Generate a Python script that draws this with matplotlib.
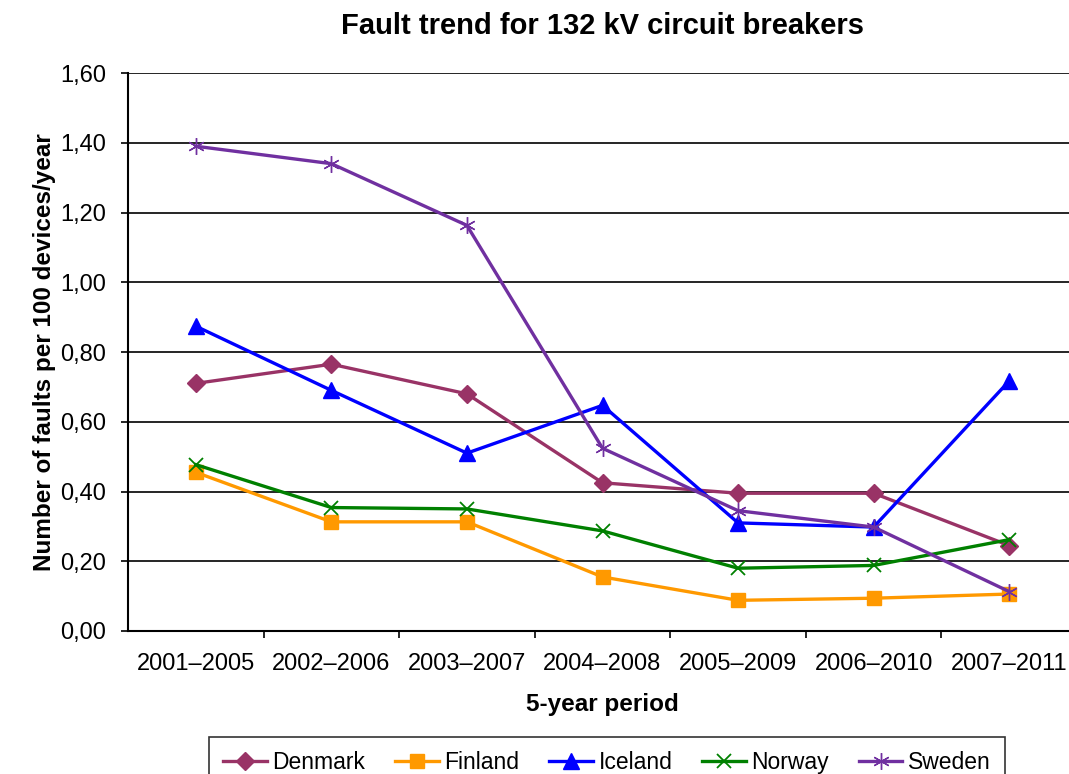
import matplotlib.pyplot as plt
import numpy as np

plt.rcParams["font.family"] = ["Liberation Sans", "DejaVu Sans"]

periods = ["2001–2005", "2002–2006", "2003–2007", "2004–2008",
           "2005–2009", "2006–2010", "2007–2011"]

denmark = [0.71, 0.765, 0.68, 0.425, 0.395, 0.395, 0.245]
finland = [0.455, 0.313, 0.313, 0.155, 0.088, 0.094, 0.106]
iceland = [0.874, 0.69, 0.51, 0.647, 0.31, 0.298, 0.717]
norway = [0.477, 0.354, 0.35, 0.287, 0.18, 0.188, 0.262]
sweden = [1.39, 1.34, 1.163, 0.524, 0.345, 0.298, 0.113]

series = [
    ("Denmark", denmark, "#993366", "D", 9, None),
    ("Finland", finland, "#FF9900", "s", 10, None),
    ("Iceland", iceland, "#0000FF", "^", 11, None),
    ("Norway", norway, "#008000", "x", 10, 1.3),
    ("Sweden", sweden, "#7030A0", (6, 2, 0), 12, 1.0),
]

fig = plt.figure(figsize=(10.69, 7.74), dpi=100)
ax = fig.add_axes([128 / 1069, 1 - 631 / 774, (1077 - 128) / 1069, (631 - 73) / 774])

x = np.arange(len(periods))
for name, vals, col, mk, ms, mew in series:
    kw = dict(color=col, lw=2.4, marker=mk, markersize=ms, label=name)
    if mew is not None:
        kw["markeredgewidth"] = mew
        kw["markeredgecolor"] = col
    ax.plot(x, vals, **kw)

ax.set_xlim(-0.5, len(periods) - 0.5)
ax.set_ylim(0, 1.6)
yt = np.arange(0, 1.61, 0.2)
ax.set_yticks(yt)
ax.set_yticklabels([f"{v:.2f}".replace(".", ",") for v in yt], fontsize=17)
ax.set_xticks(x)
ax.set_xticklabels(periods, fontsize=17)
ax.set_xticks(np.arange(0.5, len(periods) - 0.5), minor=True)
ax.tick_params(axis="x", which="major", length=0, pad=16)
ax.tick_params(axis="x", which="minor", length=5, width=1.2, direction="out")
ax.tick_params(axis="y", length=5, width=1.2, pad=10.5)
ax.grid(axis="y", color="black", lw=1.2)
ax.set_axisbelow(True)
for s in ["top", "right"]:
    ax.spines[s].set_visible(False)
ax.spines["left"].set_linewidth(1.5)
ax.spines["bottom"].set_linewidth(1.5)

ax.set_title("Fault trend for 132 kV circuit breakers", fontsize=21, fontweight="bold", pad=28)
ax.set_xlabel("5-year period", fontsize=17.5, fontweight="bold", labelpad=13)
ax.set_ylabel("Number of faults per 100 devices/year", fontsize=17.5, fontweight="bold", labelpad=3)

leg = fig.legend(loc="upper center", bbox_to_anchor=(607 / 1069, 1 - 737 / 774), ncol=5,
                 fontsize=16.5, frameon=True, fancybox=False, edgecolor="black",
                 handlelength=1.9, handletextpad=0.25, columnspacing=1.3,
                 borderpad=0.6, borderaxespad=0)
leg.get_frame().set_linewidth(1.2)

fig.savefig("out.png", dpi=100)
